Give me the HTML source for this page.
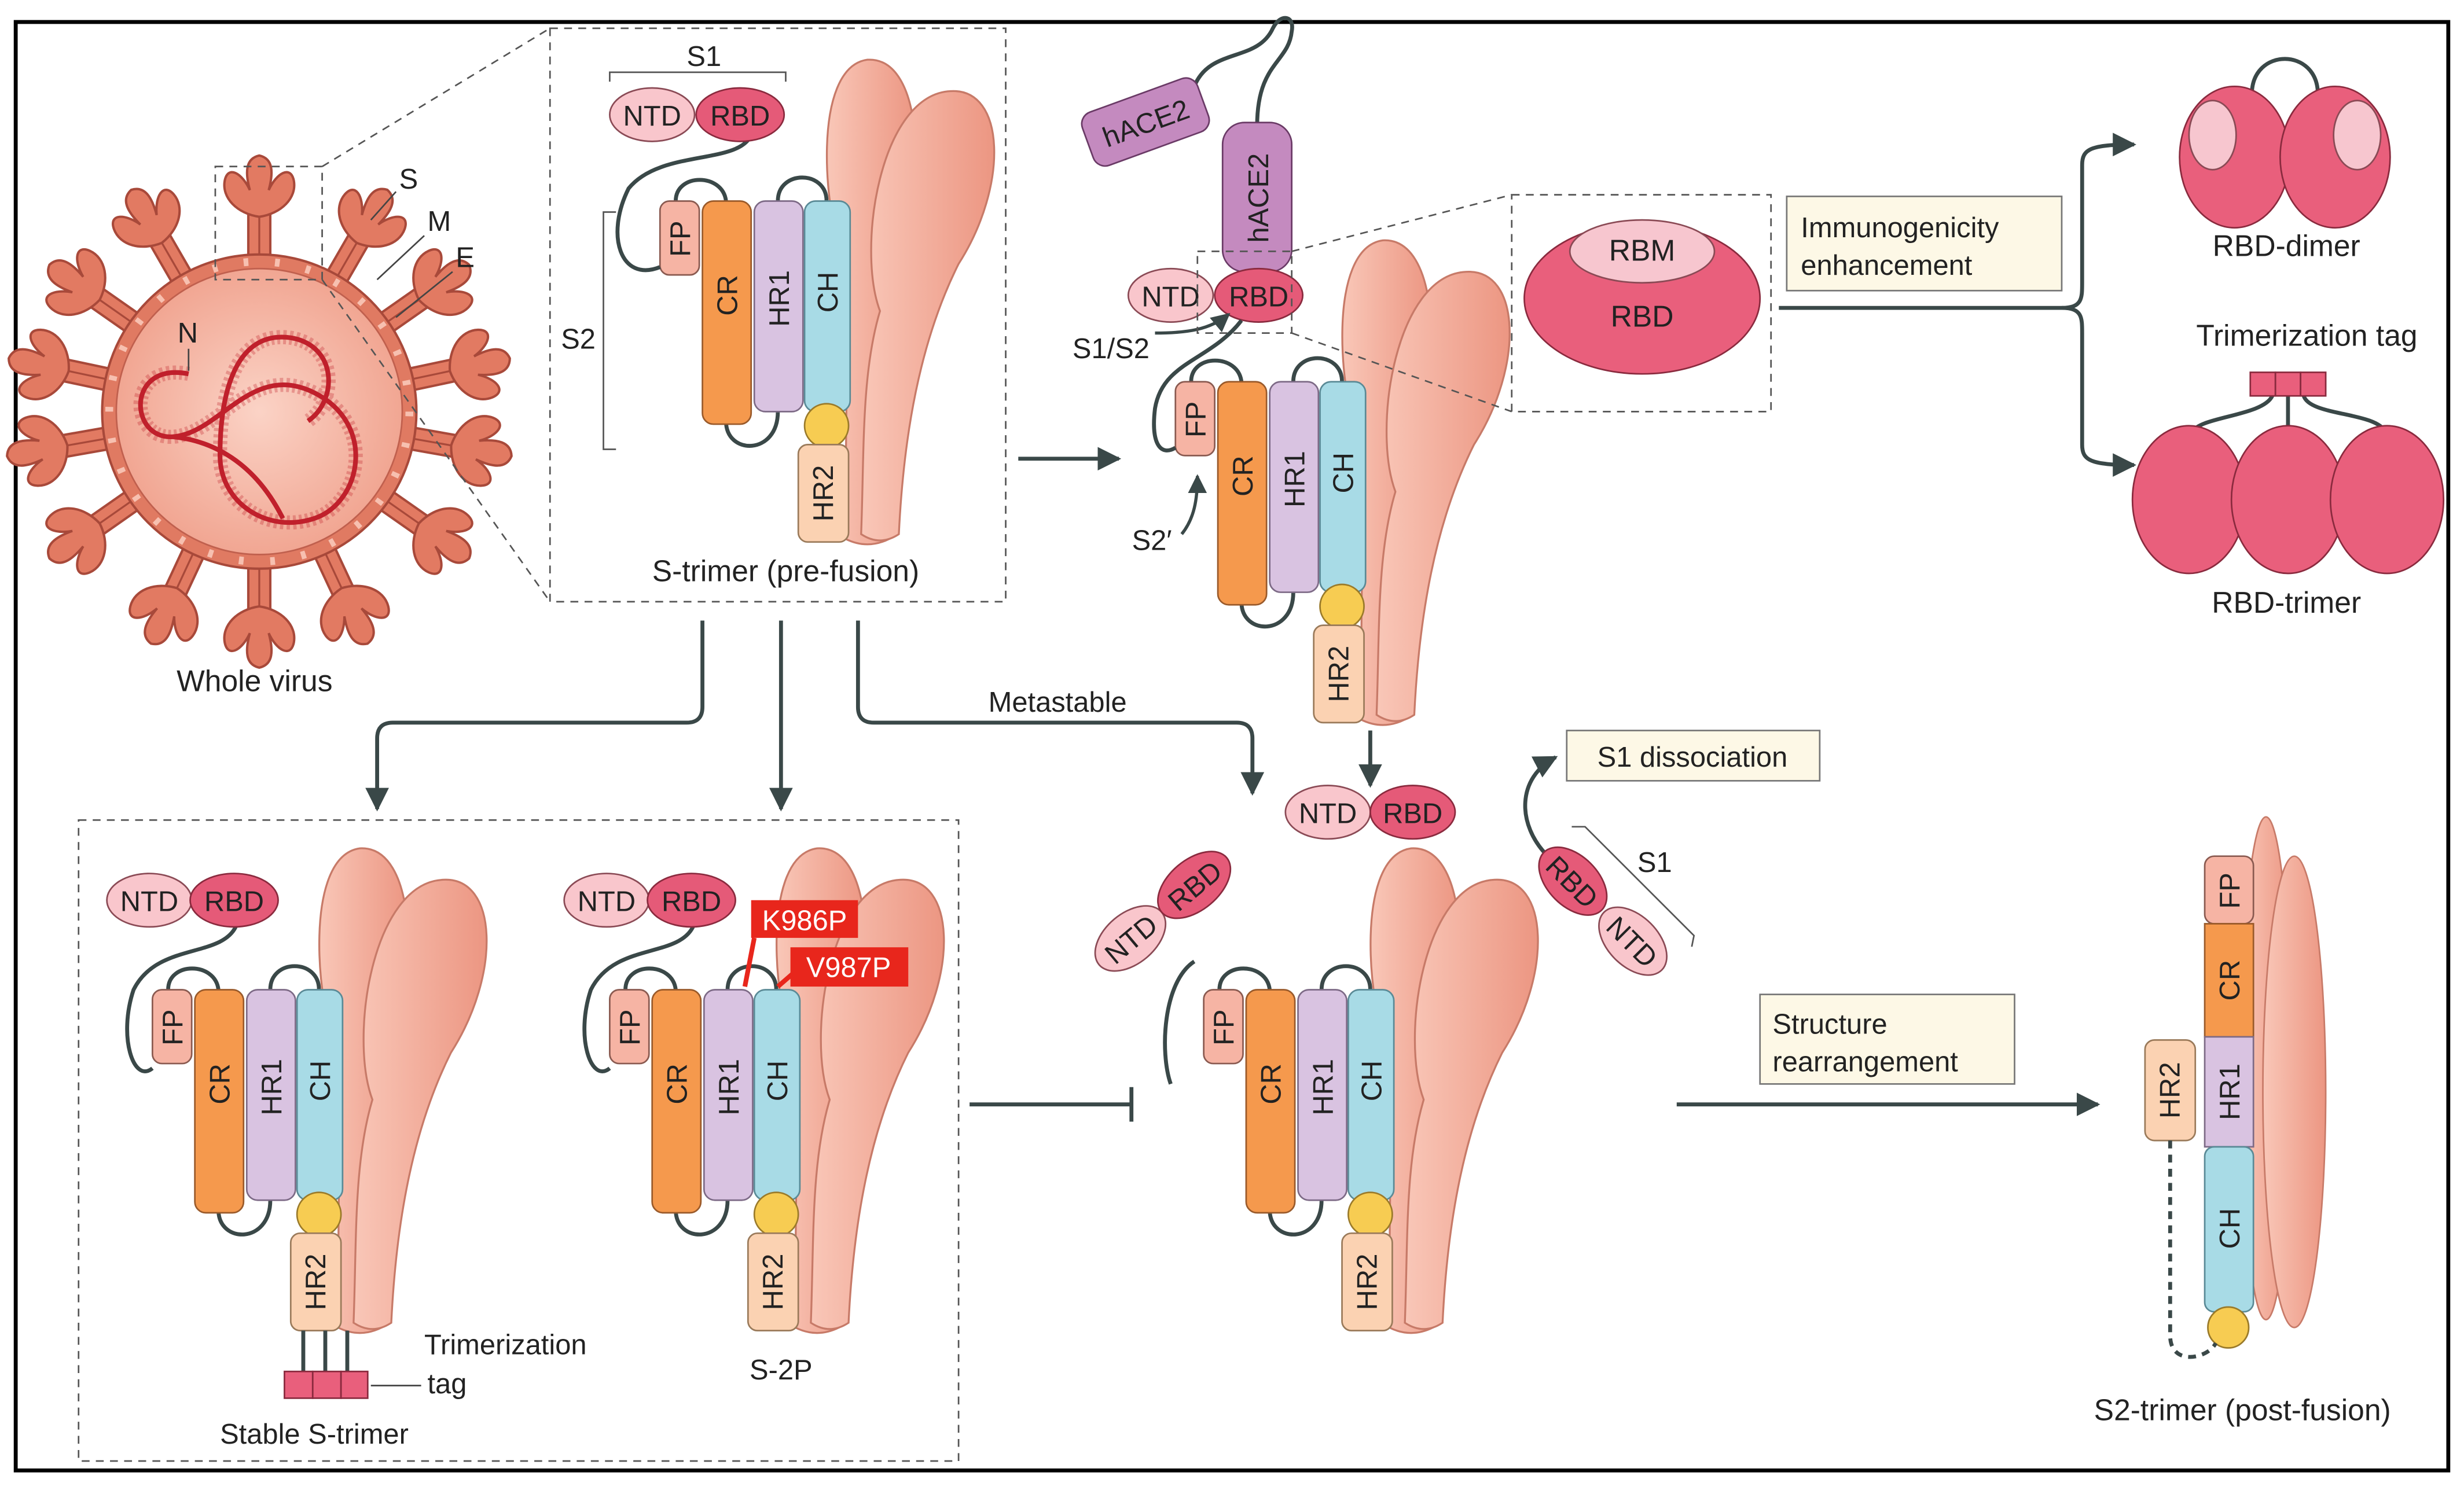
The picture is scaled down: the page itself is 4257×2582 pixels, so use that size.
<!DOCTYPE html>
<html><head><meta charset="utf-8"><style>
html,body{margin:0;padding:0;background:#fff}
svg{display:block}
text{font-family:"Liberation Sans",sans-serif;fill:#222}
</style></head><body>
<svg width="4257" height="2582" viewBox="0 0 1568 951" preserveAspectRatio="none" xmlns="http://www.w3.org/2000/svg">
<defs>
<linearGradient id="lobe" x1="0" x2="1"><stop offset="0" stop-color="#f9c7b8"/><stop offset="1" stop-color="#ec9682"/></linearGradient>
<radialGradient id="vir" cx="0.5" cy="0.5" r="0.6"><stop offset="0" stop-color="#fbd3c6"/><stop offset="1" stop-color="#ef9d88"/></radialGradient>
<marker id="ah" viewBox="0 0 10 10" refX="9" refY="5" markerWidth="6" markerHeight="6" orient="auto"><path d="M0,0 L10,5 L0,10 Z" fill="#3a4848"/></marker>
<g id="spike">
<rect x="-7" y="-128" width="14" height="34" fill="#e27a62" stroke="#a8493a" stroke-width="1.5"/>
<line x1="0" y1="-128" x2="0" y2="-96" stroke="#a8493a" stroke-width="1.2"/>
<path d="M0,-124 C-14,-126 -24,-136 -22,-147 C-20,-157 -11,-152 -6,-141 C-9,-152 -9,-161 0,-163 C9,-161 9,-152 6,-141 C11,-152 20,-157 22,-147 C24,-136 14,-126 0,-124 Z" fill="#e27a62" stroke="#a8493a" stroke-width="1.5"/>
</g>
<g id="tri">
<path d="M118,215 C118,150 120,80 118,40 C104,10 96,-85 132,-90 C168,-92 170,-10 150,40 C146,80 146,150 146,215 Q132,222 118,215Z" fill="url(#lobe)" stroke="#c77a68" stroke-width="1.2"/>
<path d="M128,212 C130,160 128,110 140,70 C125,30 140,-68 185,-70 C220,-72 222,-10 190,40 C165,90 155,150 152,212 Q140,220 128,212Z" fill="url(#lobe)" stroke="#c77a68" stroke-width="1.2"/>
<path d="M10,0 C10,-18 40,-18 42,0 M75,0 C75,-20 106,-20 106,0 M42,140 C42,162 75,162 75,134" fill="none" stroke="#3a4848" stroke-width="2.5"/>
<rect x="0" y="0" width="25" height="47" rx="6" fill="#f6b4a4" stroke="#8a5a50" stroke-width="1"/>
<rect x="27" y="0" width="31" height="142" rx="7" fill="#f5994d" stroke="#9a5a2a" stroke-width="1"/>
<rect x="60" y="0" width="31" height="134" rx="7" fill="#d9c3e1" stroke="#7d6a86" stroke-width="1"/>
<rect x="92" y="0" width="29" height="134" rx="7" fill="#a8dbe6" stroke="#5a8a96" stroke-width="1"/>
<circle cx="106" cy="143" r="14" fill="#f7cc52" stroke="#9a7a2a" stroke-width="1"/>
<rect x="88" y="155" width="32" height="62" rx="6" fill="#fbd2b2" stroke="#9a7a5a" stroke-width="1"/>
</g>
</defs>
<rect x="0" y="0" width="1568" height="951" fill="#fff"/>
<rect x="10" y="14" width="1548" height="922" fill="none" stroke="#000" stroke-width="2.5"/>

<!-- virus -->
<g>
<use href="#spike" transform="translate(165,262) rotate(0)"/>
<use href="#spike" transform="translate(165,262) rotate(30)"/>
<use href="#spike" transform="translate(165,262) rotate(55)"/>
<use href="#spike" transform="translate(165,262) rotate(78)"/>
<use href="#spike" transform="translate(165,262) rotate(100)"/>
<use href="#spike" transform="translate(165,262) rotate(125)"/>
<use href="#spike" transform="translate(165,262) rotate(155)"/>
<use href="#spike" transform="translate(165,262) rotate(180)"/>
<use href="#spike" transform="translate(165,262) rotate(205)"/>
<use href="#spike" transform="translate(165,262) rotate(235)"/>
<use href="#spike" transform="translate(165,262) rotate(260)"/>
<use href="#spike" transform="translate(165,262) rotate(282)"/>
<use href="#spike" transform="translate(165,262) rotate(305)"/>
<use href="#spike" transform="translate(165,262) rotate(330)"/>
<circle cx="165" cy="262" r="100" fill="#e07a62" stroke="#a8493a" stroke-width="1.5"/>
<circle cx="165" cy="262" r="91" fill="url(#vir)" stroke="#c0604e" stroke-width="1"/>
<circle cx="165" cy="262" r="95.5" fill="none" stroke="#f7c0b0" stroke-width="5" stroke-dasharray="3 17"/>
<g fill="none" stroke="#c0202c" stroke-width="3">
<path d="M120,238 C80,230 82,280 110,278 C140,276 160,230 200,250 C240,270 230,320 200,330 C170,340 140,320 140,290 C140,250 150,210 185,215 C215,220 215,255 196,268"/>
<path d="M110,278 C130,280 160,290 180,330" />
</g>
<g fill="none" stroke="#c0202c" stroke-width="9" stroke-opacity="0.3" stroke-dasharray="2 2">
<path d="M120,238 C80,230 82,280 110,278 C140,276 160,230 200,250 C240,270 230,320 200,330 C170,340 140,320 140,290 C140,250 150,210 185,215 C215,220 215,255 196,268"/>
</g>
</g>
<text x="254" y="120" font-size="18">S</text>
<text x="272" y="147" font-size="18">M</text>
<text x="290" y="170" font-size="18">E</text>
<text x="113" y="218" font-size="18">N</text>
<path d="M252,122 L236,140 M270,150 L240,178 M288,173 L252,202 M120,222 L120,236" stroke="#444" stroke-width="1"/>
<text x="162" y="440" font-size="19" text-anchor="middle">Whole virus</text>

<rect x="137" y="106" width="68" height="72" fill="none" stroke="#555" stroke-width="1" stroke-dasharray="5 4"/>
<path d="M205,106 L350,18 M205,178 L350,383" stroke="#555" stroke-width="1" stroke-dasharray="5 4"/>
<rect x="350" y="18" width="290" height="365" fill="none" stroke="#555" stroke-width="1" stroke-dasharray="5 4"/>

<use href="#tri" transform="translate(420,128)"/>
<path d="M478,86 C470,105 420,95 400,120 C385,150 395,180 420,170" fill="none" stroke="#3a4848" stroke-width="2.5"/>
<path d="M388,52 L388,46 L500,46 L500,52" fill="none" stroke="#555" stroke-width="1"/>
<text x="448" y="42" font-size="18" text-anchor="middle">S1</text>
<path d="M392,135 L384,135 L384,286 L392,286" fill="none" stroke="#555" stroke-width="1"/>
<text x="368" y="222" font-size="18" text-anchor="middle">S2</text>
<ellipse cx="415" cy="73" rx="27" ry="17" fill="#f9c6cc" stroke="#8a4a55"/>
<ellipse cx="471" cy="73" rx="28" ry="17" fill="#e55a78" stroke="#8a2a3e"/>
<text x="415" y="80" font-size="18" text-anchor="middle">NTD</text>
<text x="471" y="80" font-size="18" text-anchor="middle">RBD</text>
<g font-size="18" text-anchor="middle">
<text transform="translate(439,152) rotate(-90)">FP</text>
<text transform="translate(469,188) rotate(-90)">CR</text>
<text transform="translate(502,190) rotate(-90)">HR1</text>
<text transform="translate(533,186) rotate(-90)">CH</text>
<text transform="translate(530,314) rotate(-90)">HR2</text>
</g>
<text x="500" y="370" font-size="19" text-anchor="middle">S-trimer (pre-fusion)</text>

<line x1="648" y1="292" x2="712" y2="292" stroke="#3a4848" stroke-width="2.5" marker-end="url(#ah)"/>

<use href="#tri" transform="translate(748,243)"/>
<path d="M800,80 C800,40 820,40 822,20 C824,10 815,8 810,18 C800,40 770,30 760,55" fill="none" stroke="#3a4848" stroke-width="2.5"/>
<g transform="rotate(-20,728,78)"><rect x="690" y="60" width="78" height="36" rx="8" fill="#c48abf" stroke="#6a3a66"/><text x="729" y="85" font-size="18" text-anchor="middle">hACE2</text></g>
<rect x="778" y="78" width="44" height="95" rx="14" fill="#c48abf" stroke="#6a3a66"/>
<text transform="translate(807,126) rotate(-90)" font-size="18" text-anchor="middle">hACE2</text>
<ellipse cx="745" cy="188" rx="27" ry="17" fill="#f9c6cc" stroke="#8a4a55"/>
<ellipse cx="801" cy="188" rx="28" ry="17" fill="#e55a78" stroke="#8a2a3e"/>
<text x="745" y="195" font-size="18" text-anchor="middle">NTD</text>
<text x="801" y="195" font-size="18" text-anchor="middle">RBD</text>
<path d="M790,204 C770,230 740,230 735,260 C732,285 740,290 748,285" fill="none" stroke="#3a4848" stroke-width="2.5"/>
<text x="707" y="228" font-size="18" text-anchor="middle">S1/S2</text>
<path d="M735,212 C755,212 770,210 782,200" fill="none" stroke="#3a4848" stroke-width="2" marker-end="url(#ah)"/>
<text x="733" y="350" font-size="18" text-anchor="middle">S2′</text>
<path d="M752,340 C760,330 762,318 762,303" fill="none" stroke="#3a4848" stroke-width="2" marker-end="url(#ah)"/>
<g font-size="18" text-anchor="middle">
<text transform="translate(767,267) rotate(-90)">FP</text>
<text transform="translate(797,303) rotate(-90)">CR</text>
<text transform="translate(830,305) rotate(-90)">HR1</text>
<text transform="translate(861,301) rotate(-90)">CH</text>
<text transform="translate(858,429) rotate(-90)">HR2</text>
</g>
<rect x="762" y="160" width="60" height="52" fill="none" stroke="#555" stroke-dasharray="5 4"/>
<path d="M822,160 L962,124 M822,212 L962,262" stroke="#555" stroke-dasharray="5 4"/>
<rect x="962" y="124" width="165" height="138" fill="none" stroke="#555" stroke-dasharray="5 4"/>
<ellipse cx="1045" cy="190" rx="75" ry="48" fill="#e95f7c" stroke="#8a2a3e"/>
<ellipse cx="1045" cy="160" rx="46" ry="20" fill="#f7c6cf" stroke="#8a4a55"/>
<text x="1045" y="166" font-size="19" text-anchor="middle">RBM</text>
<text x="1045" y="208" font-size="19" text-anchor="middle">RBD</text>

<rect x="1137" y="125" width="175" height="60" fill="#fdf8e6" stroke="#777"/>
<text x="1146" y="151" font-size="18">Immunogenicity</text>
<text x="1146" y="175" font-size="18">enhancement</text>
<path d="M1132,196 L1312,196 C1325,196 1325,190 1325,180 L1325,105 C1325,95 1330,92 1358,92" fill="none" stroke="#3a4848" stroke-width="2.5" marker-end="url(#ah)"/>
<path d="M1312,196 C1325,196 1325,202 1325,212 L1325,283 C1325,293 1330,296 1358,296" fill="none" stroke="#3a4848" stroke-width="2.5" marker-end="url(#ah)"/>
<path d="M1433,60 C1433,30 1475,30 1475,60" fill="none" stroke="#3a4848" stroke-width="2.5"/>
<ellipse cx="1422" cy="100" rx="35" ry="45" fill="#e95f7c" stroke="#8a2a3e"/>
<ellipse cx="1408" cy="86" rx="15" ry="22" fill="#f7c6cf" stroke="#8a4a55"/>
<ellipse cx="1486" cy="100" rx="35" ry="45" fill="#e95f7c" stroke="#8a2a3e"/>
<ellipse cx="1500" cy="86" rx="15" ry="22" fill="#f7c6cf" stroke="#8a4a55"/>
<text x="1455" y="163" font-size="19" text-anchor="middle">RBD-dimer</text>
<text x="1468" y="220" font-size="19" text-anchor="middle">Trimerization tag</text>
<path d="M1446,252 C1440,265 1400,265 1395,275 M1456,252 L1456,272 M1466,252 C1470,265 1512,262 1518,275" fill="none" stroke="#3a4848" stroke-width="2.5"/>
<rect x="1432" y="237" width="16" height="15" fill="#e95f7c" stroke="#8a2a3e"/>
<rect x="1448" y="237" width="16" height="15" fill="#e95f7c" stroke="#8a2a3e"/>
<rect x="1464" y="237" width="16" height="15" fill="#e95f7c" stroke="#8a2a3e"/>
<ellipse cx="1393" cy="318" rx="36" ry="47" fill="#e95f7c" stroke="#8a2a3e"/>
<ellipse cx="1456" cy="318" rx="36" ry="47" fill="#e95f7c" stroke="#8a2a3e"/>
<ellipse cx="1519" cy="318" rx="36" ry="47" fill="#e95f7c" stroke="#8a2a3e"/>
<text x="1455" y="390" font-size="19" text-anchor="middle">RBD-trimer</text>

<path d="M447,395 L447,450 Q447,460 437,460 L250,460 Q240,460 240,470 L240,515" fill="none" stroke="#3a4848" stroke-width="2.5" marker-end="url(#ah)"/>
<line x1="497" y1="395" x2="497" y2="515" stroke="#3a4848" stroke-width="2.5" marker-end="url(#ah)"/>
<path d="M546,395 L546,450 Q546,460 556,460 L787,460 Q797,460 797,470 L797,505" fill="none" stroke="#3a4848" stroke-width="2.5" marker-end="url(#ah)"/>
<text x="673" y="453" font-size="18" text-anchor="middle">Metastable</text>
<line x1="872" y1="465" x2="872" y2="500" stroke="#3a4848" stroke-width="2.5" marker-end="url(#ah)"/>
<ellipse cx="845" cy="517" rx="27" ry="17" fill="#f9c6cc" stroke="#8a4a55"/>
<ellipse cx="899" cy="517" rx="27" ry="17" fill="#e55a78" stroke="#8a2a3e"/>
<text x="845" y="524" font-size="18" text-anchor="middle">NTD</text>
<text x="899" y="524" font-size="18" text-anchor="middle">RBD</text>
<path d="M985,545 C965,525 965,495 990,482" fill="none" stroke="#3a4848" stroke-width="2.5" marker-end="url(#ah)"/>
<rect x="997" y="465" width="161" height="32" fill="#fdf8e6" stroke="#777"/>
<text x="1077" y="488" font-size="18" text-anchor="middle">S1 dissociation</text>

<rect x="50" y="522" width="560" height="408" fill="none" stroke="#555" stroke-dasharray="5 4"/>
<use href="#tri" transform="translate(97,630)"/>
<path d="M150,590 C140,610 100,600 85,630 C75,660 85,690 97,680" fill="none" stroke="#3a4848" stroke-width="2.5"/>
<ellipse cx="95" cy="573" rx="27" ry="17" fill="#f9c6cc" stroke="#8a4a55"/>
<ellipse cx="149" cy="573" rx="28" ry="17" fill="#e55a78" stroke="#8a2a3e"/>
<text x="95" y="580" font-size="18" text-anchor="middle">NTD</text>
<text x="149" y="580" font-size="18" text-anchor="middle">RBD</text>
<g font-size="18" text-anchor="middle">
<text transform="translate(116,654) rotate(-90)">FP</text>
<text transform="translate(146,690) rotate(-90)">CR</text>
<text transform="translate(179,692) rotate(-90)">HR1</text>
<text transform="translate(210,688) rotate(-90)">CH</text>
<text transform="translate(207,816) rotate(-90)">HR2</text>
</g>
<path d="M193,847 L193,873 M207,847 L207,873 M221,847 L221,873" stroke="#3a4848" stroke-width="2.5"/>
<rect x="181" y="873" width="18" height="17" fill="#e95f7c" stroke="#8a2a3e"/>
<rect x="199" y="873" width="18" height="17" fill="#e95f7c" stroke="#8a2a3e"/>
<rect x="217" y="873" width="17" height="17" fill="#e95f7c" stroke="#8a2a3e"/>
<text x="270" y="862" font-size="18">Trimerization</text>
<text x="272" y="887" font-size="18">tag</text>
<line x1="236" y1="882" x2="268" y2="882" stroke="#444"/>
<text x="200" y="919" font-size="18" text-anchor="middle">Stable S-trimer</text>

<use href="#tri" transform="translate(388,630)"/>
<path d="M441,590 C431,610 391,600 376,630 C366,660 376,690 388,680" fill="none" stroke="#3a4848" stroke-width="2.5"/>
<ellipse cx="386" cy="573" rx="27" ry="17" fill="#f9c6cc" stroke="#8a4a55"/>
<ellipse cx="440" cy="573" rx="28" ry="17" fill="#e55a78" stroke="#8a2a3e"/>
<text x="386" y="580" font-size="18" text-anchor="middle">NTD</text>
<text x="440" y="580" font-size="18" text-anchor="middle">RBD</text>
<g font-size="18" text-anchor="middle">
<text transform="translate(407,654) rotate(-90)">FP</text>
<text transform="translate(437,690) rotate(-90)">CR</text>
<text transform="translate(470,692) rotate(-90)">HR1</text>
<text transform="translate(501,688) rotate(-90)">CH</text>
<text transform="translate(498,816) rotate(-90)">HR2</text>
</g>
<path d="M480,597 L474,628 M510,615 L495,628" stroke="#e8261c" stroke-width="3"/>
<rect x="478" y="573" width="68" height="24" fill="#e8261c"/>
<text x="512" y="592" font-size="18" text-anchor="middle" style="fill:#fff">K986P</text>
<rect x="503" y="603" width="75" height="25" fill="#e8261c"/>
<text x="540" y="622" font-size="18" text-anchor="middle" style="fill:#fff">V987P</text>
<text x="497" y="878" font-size="18" text-anchor="middle">S-2P</text>

<line x1="617" y1="703" x2="720" y2="703" stroke="#3a4848" stroke-width="2.5"/>
<line x1="720" y1="692" x2="720" y2="714" stroke="#3a4848" stroke-width="2.5"/>

<use href="#tri" transform="translate(766,630)"/>
<path d="M760,612 C740,625 738,670 745,690" fill="none" stroke="#3a4848" stroke-width="2.5"/>
<g transform="rotate(-40,740,580)">
<ellipse cx="713" cy="580" rx="26" ry="16" fill="#f9c6cc" stroke="#8a4a55"/>
<ellipse cx="766" cy="580" rx="27" ry="16" fill="#e55a78" stroke="#8a2a3e"/>
<text x="713" y="587" font-size="18" text-anchor="middle">NTD</text>
<text x="766" y="587" font-size="18" text-anchor="middle">RBD</text>
</g>
<g font-size="18" text-anchor="middle">
<text transform="translate(785,654) rotate(-90)">FP</text>
<text transform="translate(815,690) rotate(-90)">CR</text>
<text transform="translate(848,692) rotate(-90)">HR1</text>
<text transform="translate(879,688) rotate(-90)">CH</text>
<text transform="translate(876,816) rotate(-90)">HR2</text>
</g>
<g transform="rotate(45,1020,580)">
<ellipse cx="993" cy="580" rx="26" ry="16" fill="#e55a78" stroke="#8a2a3e"/>
<ellipse cx="1047" cy="580" rx="26" ry="16" fill="#f9c6cc" stroke="#8a4a55"/>
<text x="993" y="587" font-size="18" text-anchor="middle">RBD</text>
<text x="1047" y="587" font-size="18" text-anchor="middle">NTD</text>
<path d="M968,556 L974,550 L1072,550 L1076,556" fill="none" stroke="#555"/>
</g>
<text x="1053" y="555" font-size="18" text-anchor="middle">S1</text>

<rect x="1120" y="633" width="162" height="57" fill="#fdf8e6" stroke="#777"/>
<text x="1128" y="658" font-size="18">Structure</text>
<text x="1128" y="682" font-size="18">rearrangement</text>
<line x1="1067" y1="703" x2="1335" y2="703" stroke="#3a4848" stroke-width="2.5" marker-end="url(#ah)"/>

<ellipse cx="1442" cy="680" rx="16" ry="160" fill="url(#lobe)" stroke="#c77a68"/>
<ellipse cx="1460" cy="695" rx="20" ry="150" fill="url(#lobe)" stroke="#c77a68"/>
<rect x="1403" y="545" width="31" height="43" rx="6" fill="#f6b4a4" stroke="#8a5a50"/>
<rect x="1403" y="588" width="31" height="72" fill="#f5994d" stroke="#9a5a2a"/>
<rect x="1403" y="660" width="31" height="70" fill="#d9c3e1" stroke="#7d6a86"/>
<rect x="1403" y="730" width="31" height="105" rx="6" fill="#a8dbe6" stroke="#5a8a96"/>
<circle cx="1418" cy="845" r="13" fill="#f7cc52" stroke="#9a7a2a"/>
<rect x="1365" y="662" width="32" height="64" rx="6" fill="#fbd2b2" stroke="#9a7a5a"/>
<path d="M1381,726 L1381,850 C1381,870 1405,865 1410,855" fill="none" stroke="#3a4848" stroke-width="2.5" stroke-dasharray="5 4"/>
<g font-size="18" text-anchor="middle">
<text transform="translate(1425,567) rotate(-90)">FP</text>
<text transform="translate(1425,624) rotate(-90)">CR</text>
<text transform="translate(1425,695) rotate(-90)">HR1</text>
<text transform="translate(1425,782) rotate(-90)">CH</text>
<text transform="translate(1387,694) rotate(-90)">HR2</text>
</g>
<text x="1427" y="904" font-size="19" text-anchor="middle">S2-trimer (post-fusion)</text>
</svg>
</body></html>
